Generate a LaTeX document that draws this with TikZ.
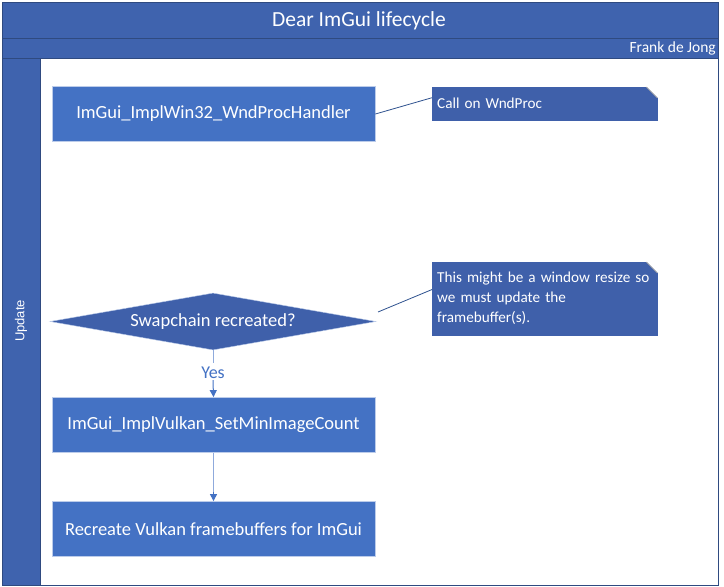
\documentclass[tikz,border=0pt]{standalone}
\usepackage{fontspec}
\setmainfont{Carlito}
\newfontfamily\lanefont{Liberation Sans}
\usetikzlibrary{shapes.geometric,arrows.meta,calc}
\definecolor{band}{RGB}{63,99,174}
\definecolor{boxblue}{RGB}{68,114,196}
\definecolor{notefill}{RGB}{63,96,170}
\definecolor{edge}{RGB}{47,74,128}
\definecolor{conn}{RGB}{143,170,220}
\definecolor{noteline}{RGB}{47,82,143}
\tikzset{
  procbox/.style={draw=conn!60!white, line width=0.8pt, fill=boxblue, minimum width=323pt, minimum height=55pt, text=white, font=\fontsize{18.5}{22}\selectfont, inner sep=0pt},
  decbox/.style={diamond, aspect=5.7, draw=conn!60!white, fill=notefill, text=white, font=\fontsize{18.5}{22}\selectfont, minimum width=326pt, minimum height=57pt, inner sep=0pt},
  notebox/.style={fill=notefill, draw=notefill, text=white, font=\fontsize{15.2}{20}\selectfont, align=left, anchor=north west, text width=215pt, inner xsep=5pt, inner ysep=8pt, minimum width=225pt},
  flow/.style={line width=1pt, -{Triangle[length=7pt,width=7pt]}, color=boxblue},
  noteconn/.style={draw=noteline, line width=0.8pt},
}
\begin{document}
\begin{tikzpicture}[x=1pt,y=-1pt]
\useasboundingbox (0,0) rectangle (724,587);
\fill[white] (0,0) rectangle (724,587);
% frame
\fill[band] (2,2) rectangle (718,585);
\fill[white] (40,58) rectangle (718,585);
\draw[edge, line width=1pt] (2,2) rectangle (718,585);
\draw[edge, line width=1pt] (2,38) -- (718,38);
\draw[edge, line width=1pt] (2,58) -- (718,58);
\draw[edge, line width=1pt] (40,58) -- (40,585);
\node[text=white, font=\fontsize{21.5}{25}\selectfont] (title) at (359,21) {Dear ImGui lifecycle};
\node[text=white, font=\fontsize{15.5}{18}\selectfont, anchor=east, inner sep=0pt] (author) at (716,48) {Frank de Jong};
\node[text=white, font=\lanefont\fontsize{13}{16}\selectfont, rotate=90] (lane) at (21,321) {Update};
% nodes
\node[procbox] (wnd) at (213.5,114) {ImGui\_ImplWin32\_WndProcHandler};
\node[notebox, minimum height=33pt] (n1) at (432,87) {Call on WndProc};
\node[decbox] (sw) at (213,321.5) {Swapchain recreated?};
\node[notebox, minimum height=72pt, inner ysep=10pt] (n2) at (432,262) {This might be a window resize so\\we must update the\\framebuffer(s).};
\node[procbox] (min) at (213.5,425) {ImGui\_ImplVulkan\_SetMinImageCount};
\node[procbox] (rec) at (213.5,529) {Recreate Vulkan framebuffers for ImGui};
\coordinate (n2start) at (378,312);
% folds
\foreach \n in {n1,n2}{
  \fill[white] ($(\n.north east)+(-11,-0.5)$) -- ($(\n.north east)+(0.5,-0.5)$) -- ($(\n.north east)+(0.5,11)$) -- cycle;
  \draw[gray!70, line width=0.6pt] ($(\n.north east)+(-11,0)$) -- ($(\n.north east)+(0,11)$);
}
% connectors
\draw[noteconn] (wnd.east) -- ($(n1.west)+(0,-6)$);
\draw[noteconn] (n2start) -- ($(n2.west)+(0,-9)$);
\draw[line width=1pt, conn] (sw.south) -- ($(sw.south)+(0,13)$);
\node[fill=white, text=boxblue, font=\fontsize{18}{21}\selectfont, inner sep=1pt] (yes) at (213,373) {Yes};
\draw[flow] (yes.south) -- (min.north);
\draw[line width=1pt, conn] (min.south) -- ($(rec.north)+(0,-8)$);
\draw[flow] ($(rec.north)+(0,-9)$) -- (rec.north);
\end{tikzpicture}
\end{document}
